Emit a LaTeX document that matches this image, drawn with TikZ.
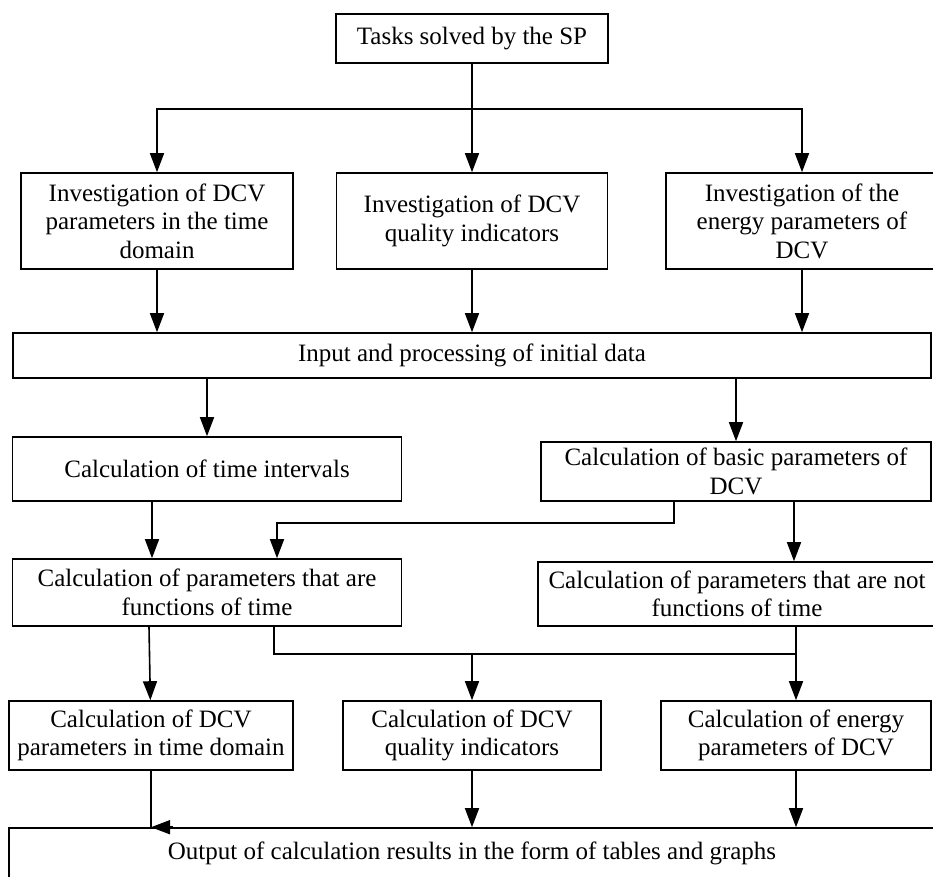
\documentclass[tikz,border=0pt]{standalone}
\usepackage{fontspec}
\setmainfont{Liberation Serif}
\usetikzlibrary{shapes,arrows.meta,positioning,calc}

\begin{document}
\begin{tikzpicture}[
        x=1pt, y=-1pt,
        block/.style={rectangle, draw, line width=1.6pt, align=center, inner sep=2pt, font=\fontsize{25}{28.5}\selectfont},
        line/.style={line width=1.6pt},
        arrow/.style={line,->,>={Triangle[length=19pt,width=14pt]}}
    ]
        \useasboundingbox (0,0) rectangle (933,876);
        \clip (0,0) rectangle (933,876);

        % Nodes
        \node[block, minimum width=272pt, minimum height=49pt] (sp) at (472,38.5) {Tasks solved by the SP};
        \node[block, minimum width=272pt, minimum height=96pt] (invtime) at (157,221) {Investigation of DCV\\parameters in the time\\domain};
        \node[block, minimum width=271pt, minimum height=96pt] (invqual) at (472,221) {Investigation of DCV\\quality indicators};
        \node[block, minimum width=272pt, minimum height=96pt] (invenergy) at (802,221) {Investigation of the\\energy parameters of\\DCV};
        \node[block, minimum width=918pt, minimum height=45pt] (input) at (472,355.5) {Input and processing of initial data};
        \node[block, minimum width=389pt, minimum height=64pt] (intervals) at (207,469) {Calculation of time intervals};
        \node[block, minimum width=390pt, minimum height=59pt] (basic) at (736,471.5) {Calculation of basic parameters of\\DCV};
        \node[block, minimum width=389pt, minimum height=67pt] (timefunc) at (207,592.5) {Calculation of parameters that are\\functions of time};
        \node[block, minimum width=398pt, minimum height=64pt] (notfunc) at (737,594) {Calculation of parameters that are not\\functions of time};
        \node[block, minimum width=284pt, minimum height=69pt] (domain) at (151,735.5) {Calculation of DCV\\parameters in time domain};
        \node[block, minimum width=258pt, minimum height=69pt] (quality) at (472,735.5) {Calculation of DCV\\quality indicators};
        \node[block, minimum width=270pt, minimum height=69pt] (energy) at (796,735.5) {Calculation of energy\\parameters of DCV};
        \node[block, minimum width=926pt, minimum height=50pt] (output) at (472,853) {Output of calculation results in the form of tables and graphs};
        \coordinate (split) at (472,109);
        \coordinate (join) at (796,654);

        % Arrows
        \draw[arrow] (sp) -- (invqual);
        \draw[arrow] (split) -| (invtime);
        \draw[arrow] (split) -| (invenergy);
        \draw[arrow] (invtime) -- (invtime |- input.north);
        \draw[arrow] (invqual) -- (invqual |- input.north);
        \draw[arrow] (invenergy) -- (invenergy |- input.north);
        \draw[arrow] (input.south -| intervals) -- (intervals);
        \draw[arrow] (input.south -| basic) -- (basic);
        \draw[arrow] ([xshift=-55pt]intervals.south) -- ([xshift=-55pt]timefunc.north);
        \draw[arrow] ([xshift=-62pt]basic.south) -- ++(0,21) -| ([xshift=70pt]timefunc.north);
        \draw[arrow] ([xshift=58pt]basic.south) -- ([xshift=57pt]notfunc.north);
        \draw[arrow] ([xshift=-58pt]timefunc.south) -- (domain);
        \draw[line] ([xshift=67pt]timefunc.south) |- (join);
        \draw[arrow] (notfunc.south -| energy) -- (energy);
        \draw[arrow] (join -| quality) -- (quality);
        \draw[line] (domain) -- (domain |- output.north);
        \draw[arrow] ($(domain |- output.north)+(22,0)$) -- (domain |- output.north);
        \draw[arrow] (quality) -- (quality |- output.north);
        \draw[arrow] (energy) -- (energy |- output.north);

    \end{tikzpicture}
\end{document}
